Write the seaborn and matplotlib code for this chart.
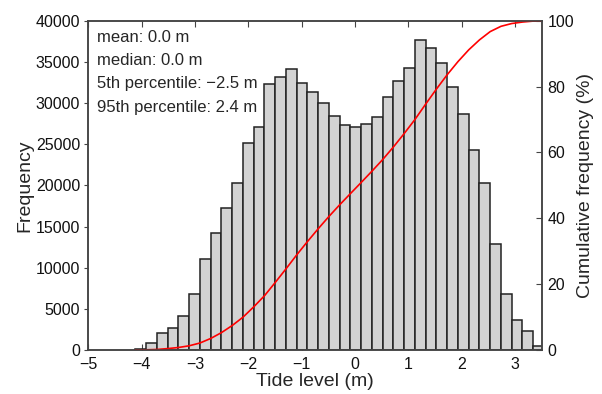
import numpy as np
import pandas as pd
import matplotlib
matplotlib.use("Agg")
import matplotlib.pyplot as plt
import seaborn as sns

# histogram of tide levels, 38 bins of ~0.2 m
bin_start = -4.12
bin_width = 0.2016
counts = [150, 850, 2100, 2700, 4170, 6770, 11060, 14260, 17300, 20270,
          25200, 27150, 32300, 33230, 34150, 32500, 31300, 30000, 28450, 27360,
          27110, 27510, 28370, 30800, 32700, 34250, 37650, 36680, 34860, 31940,
          28660, 24320, 20270, 12850, 6770, 3650, 2310, 520]
stats_lines = ["mean: 0.0 m", "median: 0.0 m",
               "5th percentile: \u22122.5 m", "95th percentile: 2.4 m"]
x_ticks = [-5, -4, -3, -2, -1, 0, 1, 2, 3]
y_ticks = [0, 5000, 10000, 15000, 20000, 25000, 30000, 35000, 40000]
cum_ticks = [0, 20, 40, 60, 80, 100]

edges = bin_start + bin_width * np.arange(len(counts) + 1)
centers = (edges[:-1] + edges[1:]) / 2
df = pd.DataFrame({"level": centers, "count": counts})
cum = np.concatenate([[0], np.cumsum(counts)]) / np.sum(counts) * 100
cdf = pd.DataFrame({"level": edges, "cum": cum})

sns.set_style("ticks")
plt.rcParams["font.family"] = ["Liberation Sans", "DejaVu Sans"]
plt.rcParams.update({"axes.linewidth": 1.1, "axes.edgecolor": "#444444",
                     "xtick.color": "#444444", "ytick.color": "#444444",
                     "xtick.labelcolor": "#111111", "ytick.labelcolor": "#111111"})

fig = plt.figure(figsize=(6.02, 3.94), dpi=100)
ax = fig.add_axes([0.147, 0.112, 0.753, 0.835])
sns.histplot(data=df, x="level", weights="count", bins=edges.tolist(), color="#d3d3d3",
             edgecolor="#222222", linewidth=1.1, alpha=1.0, ax=ax)
ax.set_xlim(-5, 3.5)
ax.set_ylim(0, 40000)
ax.set_xticks(x_ticks)
ax.set_xticklabels([str(t).replace("-", "\u2212") for t in x_ticks])
ax.set_yticks(y_ticks)
ax.tick_params(axis="x", labelsize=11.5, length=4, direction="in", top=True, pad=5)
ax.tick_params(axis="y", labelsize=11.5, length=3, direction="out", right=False, pad=3)
ax.set_xlabel("Tide level (m)", fontsize=14, labelpad=1)
ax.set_ylabel("Frequency", fontsize=14, labelpad=2)

for i, line in enumerate(stats_lines):
    ax.text(0.018, 0.951 - i * 0.071, line, transform=ax.transAxes,
            fontsize=12, va="center", ha="left")

ax2 = ax.twinx()
sns.lineplot(data=cdf, x="level", y="cum", color="red", linewidth=1.2, ax=ax2)
ax2.set_ylim(0, 100)
ax2.set_yticks(cum_ticks)
ax2.set_ylabel("Cumulative frequency (%)", fontsize=14, labelpad=2)
ax2.tick_params(labelsize=11.5, length=4, direction="in", pad=4)
ax2.set_xlim(-5, 3.5)

fig.savefig("out.png", dpi=100)
